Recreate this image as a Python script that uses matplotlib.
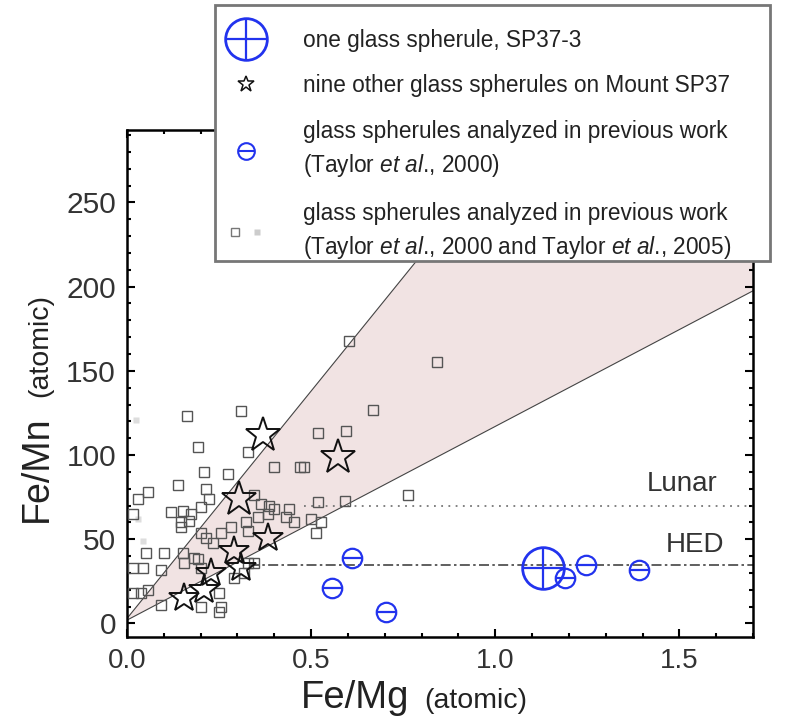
import matplotlib.pyplot as plt
from matplotlib.lines import Line2D
from matplotlib.legend_handler import HandlerTuple

plt.rcParams['font.family'] = ['Liberation Sans', 'DejaVu Sans']
plt.rcParams['mathtext.fontset'] = 'custom'
plt.rcParams['mathtext.rm'] = 'Liberation Sans'
plt.rcParams['mathtext.it'] = 'Liberation Sans:italic'

# === Data ===
sp37_3_femg = [1.13]
sp37_3_femn = [33]

star_femg = [0.369, 0.572, 0.304, 0.382, 0.290, 0.309, 0.228, 0.209, 0.154]
star_femn = [112, 99, 74, 51, 43, 33, 30, 20, 15]
star_size = [26, 26, 26, 22, 22, 22, 22, 22, 22]

prev2000_femg = [0.558, 0.612, 0.702, 1.190, 1.247, 1.390]
prev2000_femn = [21, 39, 7, 27, 35, 32]

prev_femg = [0.602, 0.843, 0.309, 0.163, 0.669, 0.518, 0.596, 0.192, 0.328, 0.398,
             0.469, 0.482, 0.209, 0.274, 0.138, 0.214, 0.057, 0.030, 0.222, 0.344,
             0.764, 0.518, 0.593, 0.363, 0.385, 0.119, 0.152, 0.173, 0.016, 0.200,
             0.439, 0.431, 0.453, 0.499, 0.526, 0.512, 0.146, 0.168, 0.146, 0.200,
             0.322, 0.398, 0.051, 0.100, 0.043, 0.016, 0.092, 0.038, 0.092, 0.249,
             0.200, 0.249, 0.328, 0.344, 0.290, 0.317, 0.192, 0.200, 0.255, 0.282,
             0.328, 0.355, 0.382, 0.233, 0.154, 0.152, 0.182, 0.214, 0.016, 0.057,
             0.255]
prev_femn = [168, 155, 126, 123, 127, 113, 114, 105, 102, 93,
             93, 93, 90, 89, 82, 80, 78, 74, 74, 76,
             76, 72, 73, 71, 70, 66, 67, 65, 65, 69,
             68, 63, 60, 62, 60, 54, 60, 61, 57, 54,
             60, 68, 42, 42, 33, 33, 32, 18, 11, 7,
             10, 18, 36, 36, 27, 30, 38, 33, 54, 57,
             55, 63, 65, 48, 36, 42, 39, 51, 18, 20,
             10]

faint_femg = [0.025, 0.044, 0.030]
faint_femn = [121, 49, 62]

# shaded band: lower and upper bounding lines
wedge_femg = [0.0, 1.7]
wedge_low = [2, 197.5]
wedge_high = [3, 462]

lunar_femn = 70
hed_femn = 35

blue = '#2233ee'
gray = '#555555'

# === Plot ===
fig = plt.figure(figsize=(8.11, 7.24), dpi=100)
ax = fig.add_axes([0.1566, 0.1202, 0.7719, 0.7003])

ax.fill_between(wedge_femg, wedge_low, wedge_high, color='#f1e3e3', lw=0, zorder=1)
ax.plot(wedge_femg, wedge_low, color='#444444', lw=0.8, zorder=2)
ax.plot(wedge_femg, wedge_high, color='#444444', lw=0.8, zorder=2)

ax.hlines(lunar_femn, 0.48, 1.7, colors='#777777', linestyles=(0, (1, 3)), lw=1.3, zorder=2)
ax.hlines(hed_femn, 0.33, 1.7, colors='#444444', linestyles=(0, (6, 2, 1.5, 2)), lw=1.2, zorder=2)
ax.text(1.604, 75, 'Lunar', fontsize=20, color='#333333', ha='right', va='bottom')
ax.text(1.623, 39, 'HED', fontsize=20, color='#333333', ha='right', va='bottom')

ax.plot(faint_femg, faint_femn, 's', ms=5, color='#dddddd', mec='none', zorder=3)
ax.plot(prev_femg, prev_femn, 's', ms=7, mfc='none', mec=gray, mew=1.0, zorder=3)

for x, y, s in zip(star_femg, star_femn, star_size):
    ax.plot(x, y, '*', ms=s, mfc='none', mec='#111111', mew=1.4, zorder=4)

ax.plot(prev2000_femg, prev2000_femn, 'o', ms=14, mfc='none', mec=blue, mew=1.6, zorder=5)
ax.plot(prev2000_femg, prev2000_femn, '_', ms=14, mec=blue, mew=1.6, zorder=5)

ax.plot(sp37_3_femg, sp37_3_femn, 'o', ms=30, mfc='none', mec=blue, mew=2.0, zorder=6)
ax.plot(sp37_3_femg, sp37_3_femn, '+', ms=30, mec=blue, mew=1.6, zorder=6)

ax.set_xlim(0, 1.7)
ax.set_ylim(-8, 293)
ax.set_xticks([0.0, 0.5, 1.0, 1.5])
ax.set_xticklabels(['0.0', '0.5', '1.0', '1.5'])
ax.set_xticks([i / 10 for i in range(18)], minor=True)
ax.set_yticks([0, 50, 100, 150, 200, 250])
ax.set_yticks(list(range(0, 291, 10)), minor=True)
ax.tick_params(which='both', direction='in', top=True, right=True, width=1.5)
ax.tick_params(which='major', length=6, labelcolor='#333333', pad=8)
ax.tick_params(axis='x', which='major', labelsize=20)
ax.tick_params(axis='y', which='major', labelsize=21.5)
ax.tick_params(which='minor', length=3)
for sp in ax.spines.values():
    sp.set_linewidth(1.8)

# axis titles: big symbol + smaller "(atomic)"
fig.text(0.438, 0.022, 'Fe/Mg', fontsize=27.5, color='#222222', ha='center', va='baseline')
fig.text(0.587, 0.022, '(atomic)', fontsize=20.5, color='#222222', ha='center', va='baseline')
fig.text(0.046, 0.353, 'Fe/Mn', fontsize=27, color='#222222', rotation=90, ha='center', va='center')
fig.text(0.050, 0.523, '(atomic)', fontsize=20.5, color='#222222', rotation=90, ha='center', va='center')

# === Legend ===
h1 = (Line2D([], [], ls='none', marker='o', ms=30, mfc='none', mec=blue, mew=2.0),
      Line2D([], [], ls='none', marker='+', ms=30, mec=blue, mew=1.6))
h2 = Line2D([], [], ls='none', marker='*', ms=12, mfc='none', mec='#111111', mew=1.1)
h3 = (Line2D([], [], ls='none', marker='o', ms=12, mfc='none', mec=blue, mew=1.5),
      Line2D([], [], ls='none', marker='_', ms=12, mec=blue, mew=1.5))
h4 = (Line2D([], [], ls='none', marker='s', ms=6, mfc='none', mec='#777777', mew=1.0),
      Line2D([], [], ls='none', marker='s', ms=5, color='#cccccc', mec='none'))
labels = ['one glass spherule, SP37-3',
          'nine other glass spherules on Mount SP37',
          'glass spherules analyzed in previous work\n(Taylor $\\mathit{et\\ al}$., 2000)',
          'glass spherules analyzed in previous work\n(Taylor $\\mathit{et\\ al}$., 2000 and Taylor $\\mathit{et\\ al}$., 2005)']
# a blank tiny title pushes the rows down inside the frame
leg = fig.legend([h1, h2, h3, h4], labels,
                 handler_map={h1: HandlerTuple(ndivide=1), h3: HandlerTuple(ndivide=1),
                              h4: HandlerTuple(ndivide=None, pad=-0.8)},
                 loc='upper left', bbox_to_anchor=(0.265, 0.3, 0.684, 0.693),
                 bbox_transform=fig.transFigure, mode='expand', title=' ', title_fontsize=1,
                 borderaxespad=0, fontsize=16.3, frameon=True, fancybox=False, framealpha=1,
                 edgecolor='#777777', borderpad=0.0, labelspacing=1.0, handlelength=2.75,
                 handletextpad=1.15)
leg.get_frame().set_linewidth(2.0)
leg.set_zorder(10)
for t in leg.get_texts():
    t.set_color('#222222')
    t.set_linespacing(1.46)

fig.savefig('out.png', dpi=100)
